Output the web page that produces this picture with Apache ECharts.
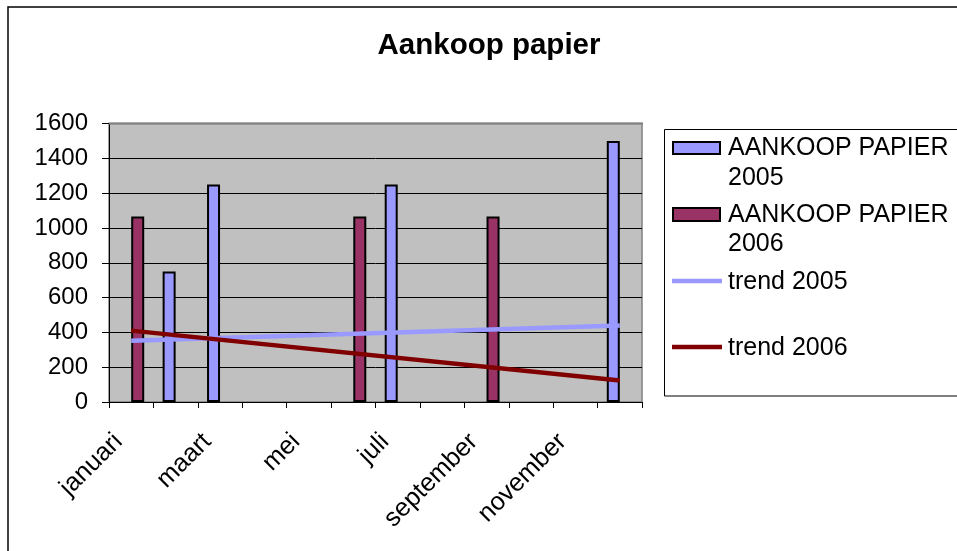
<!DOCTYPE html>
<html>
<head>
<meta charset="utf-8">
<script src="https://cdn.jsdelivr.net/npm/echarts@6/dist/echarts.min.js"></script>
<style>
html,body{margin:0;padding:0;background:#fff;}
#c{width:957px;height:551px;}
</style>
</head>
<body>
<div id="c"></div>
<script>
// ---- data ----
const months = ['januari','februari','maart','april','mei','juni','juli','augustus','september','oktober','november','december'];
const aankoop2005 = [null, 750, 1250, null, null, null, 1250, null, null, null, null, 1500];
const aankoop2006 = [1066, null, null, null, null, 1066, null, null, 1066, null, null, null];
const trend2005 = [352, null, null, null, null, null, null, null, null, null, null, 439];
const trend2006 = [410, null, null, null, null, null, null, null, null, null, null, 123];
const seriesNames = ['AANKOOP PAPIER 2005', 'AANKOOP PAPIER 2006', 'trend 2005', 'trend 2006'];
const yMin = 0, yMax = 1600, yStep = 200;

const FONT = "'Liberation Sans', Arial, Helvetica, sans-serif";
const C2005 = '#9999FF', C2006 = '#993366', T2005 = '#9999FF', T2006 = '#800000';

// ---- legend (drawn as graphic text) ----
function splitName(n) { const i = n.lastIndexOf(' '); return [n.slice(0, i), n.slice(i + 1)]; }
const LX = 673, TX = 728, FS = 25;
const legendEls = [
  { type: 'rect', shape: { x: 664.5, y: 129.5, width: 500, height: 266.5 }, style: { fill: 'none', stroke: '#000', lineWidth: 1 } },
  { type: 'rect', shape: { x: LX, y: 142, width: 47, height: 12 }, style: { fill: C2005, stroke: '#000', lineWidth: 2 } },
  { type: 'text', x: TX, y: 148.5, style: { text: splitName(seriesNames[0])[0], font: FS + 'px ' + FONT, fill: '#000', verticalAlign: 'middle' } },
  { type: 'text', x: TX, y: 178, style: { text: splitName(seriesNames[0])[1], font: FS + 'px ' + FONT, fill: '#000', verticalAlign: 'middle' } },
  { type: 'rect', shape: { x: LX, y: 208, width: 47, height: 13 }, style: { fill: C2006, stroke: '#000', lineWidth: 2 } },
  { type: 'text', x: TX, y: 215, style: { text: splitName(seriesNames[1])[0], font: FS + 'px ' + FONT, fill: '#000', verticalAlign: 'middle' } },
  { type: 'text', x: TX, y: 244.5, style: { text: splitName(seriesNames[1])[1], font: FS + 'px ' + FONT, fill: '#000', verticalAlign: 'middle' } },
  { type: 'line', shape: { x1: 672, y1: 281, x2: 722, y2: 281 }, style: { stroke: T2005, lineWidth: 4.5 } },
  { type: 'text', x: TX, y: 282, style: { text: seriesNames[2], font: FS + 'px ' + FONT, fill: '#000', verticalAlign: 'middle' } },
  { type: 'line', shape: { x1: 672, y1: 347, x2: 722, y2: 347 }, style: { stroke: T2006, lineWidth: 4.5 } },
  { type: 'text', x: TX, y: 348.5, style: { text: seriesNames[3], font: FS + 'px ' + FONT, fill: '#000', verticalAlign: 'middle' } }
];

const chart = echarts.init(document.getElementById('c'));
chart.setOption({
  animation: false,
  backgroundColor: '#fff',
  title: {
    text: 'Aankoop papier', left: 484, top: 26, textAlign: 'center',
    textStyle: { fontSize: 29.5, fontWeight: 'bold', color: '#000', fontFamily: FONT }
  },
  grid: {
    left: 109, top: 123.5, right: 315, bottom: 149,
    show: true, backgroundColor: '#C0C0C0', borderColor: '#808080', borderWidth: 1.5
  },
  xAxis: {
    type: 'category', data: months, boundaryGap: true,
    axisLine: { lineStyle: { color: '#000', width: 1 } },
    axisTick: { show: true, interval: 0, length: 6, lineStyle: { color: '#000' } },
    axisLabel: { interval: 1, rotate: 45, fontSize: 25.5, color: '#000', margin: 23, padding: [0, 18, 0, 0], fontFamily: FONT },
    splitLine: { show: false }
  },
  yAxis: {
    type: 'value', min: yMin, max: yMax, interval: yStep,
    axisLine: { show: true, lineStyle: { color: '#000', width: 1 } },
    axisTick: { show: true, length: 7, lineStyle: { color: '#000' } },
    axisLabel: { fontSize: 24, color: '#000', margin: 21, fontFamily: FONT, formatter: function (v) { return String(v); } },
    splitLine: { show: true, lineStyle: { color: '#000', width: 1 } }
  },
  series: [
    { name: seriesNames[0], type: 'bar', data: aankoop2005, barWidth: 13, barGap: '0%',
      itemStyle: { color: C2005, borderColor: '#000', borderWidth: 2 } },
    { name: seriesNames[1], type: 'bar', data: aankoop2006, barWidth: 13, barGap: '0%',
      itemStyle: { color: C2006, borderColor: '#000', borderWidth: 2 } },
    { name: seriesNames[2], type: 'line', data: trend2005, connectNulls: true, symbol: 'none', z: 5,
      lineStyle: { color: T2005, width: 4.5 } },
    { name: seriesNames[3], type: 'line', data: trend2006, connectNulls: true, symbol: 'none', z: 6,
      lineStyle: { color: T2006, width: 4.5 } }
  ],
  graphic: [
    { type: 'rect', shape: { x: 8, y: 7, width: 1500, height: 1500 }, style: { fill: 'none', stroke: '#000', lineWidth: 1.5 }, z: 100 },
    { type: 'line', shape: { x1: 109, y1: 123.5, x2: 643, y2: 123.5 }, style: { stroke: '#808080', lineWidth: 2 }, z: 100 }
  ].concat(legendEls)
});
</script>
</body>
</html>
